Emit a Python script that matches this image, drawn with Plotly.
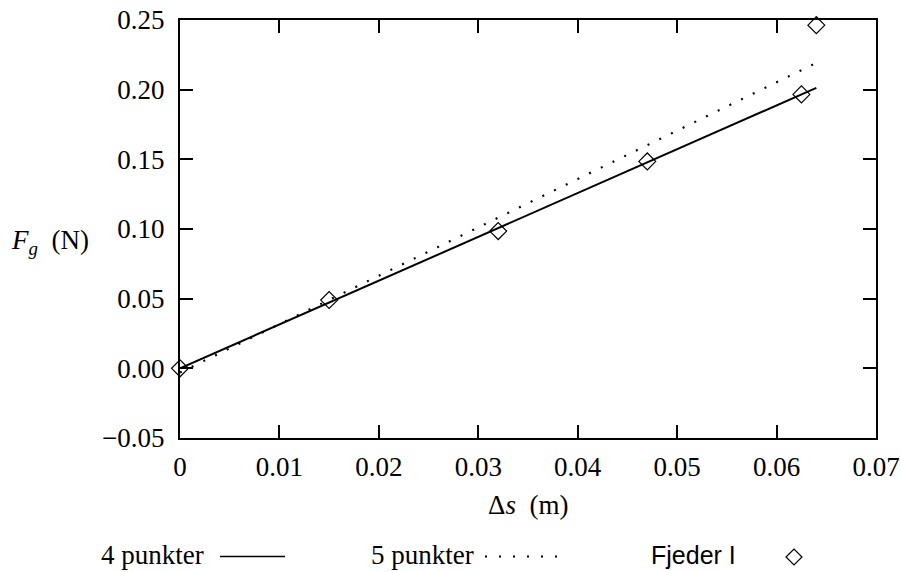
import plotly.graph_objects as go

# Data
ds_points = [0.0, 0.015, 0.032, 0.047, 0.0625, 0.064]
fg_points = [0.0, 0.049, 0.0985, 0.1485, 0.1966, 0.2463]

fit4_x = [0.0, 0.064]
fit4_y = [0.0, 0.2013]

fit5_x = [0.0, 0.064]
fit5_y = [-0.003, 0.2192]

x_ticks = [0, 0.01, 0.02, 0.03, 0.04, 0.05, 0.06, 0.07]
x_ticktext = ["0", "0.01", "0.02", "0.03", "0.04", "0.05", "0.06", "0.07"]
y_ticks = [-0.05, 0.0, 0.05, 0.10, 0.15, 0.20, 0.25]
y_ticktext = ["\u22120.05", "0.00", "0.05", "0.10", "0.15", "0.20", "0.25"]

SERIF = "Liberation Serif"
SANS = "Liberation Sans"
FS = 27

fig = go.Figure()
fig.add_trace(go.Scatter(x=fit4_x, y=fit4_y, mode="lines",
                         line=dict(color="black", width=2), showlegend=False))
fig.add_trace(go.Scatter(x=fit5_x, y=fit5_y, mode="lines",
                         line=dict(color="black", width=2.2, dash="2px,11px"), showlegend=False))
fig.add_trace(go.Scatter(x=ds_points, y=fg_points, mode="markers",
                         marker=dict(symbol="diamond-open", size=13, color="black",
                                     line=dict(width=1.2, color="black")),
                         cliponaxis=False, showlegend=False))

W, H = 901, 572
PL, PR, PT, PB = 180, 876, 20, 438   # plot area in page pixels
L, T, R, B = PL, PT, W - PR, H - PB
pw = PR - PL
ph = PB - PT

def px(x):
    return (x - PL) / pw

def py(y):
    return (PB - y) / ph

axis_common = dict(showline=True, linecolor="black", linewidth=2, mirror="ticks",
                   ticks="inside", ticklen=13, tickwidth=2, tickcolor="black",
                   showgrid=False, zeroline=False, automargin=False,
                   ticklabeloverflow="allow",
                   tickfont=dict(family=SERIF, size=FS, color="black"))

fig.update_xaxes(range=[0, 0.07], tickvals=x_ticks, ticktext=x_ticktext,
                 ticklabelstandoff=4, **axis_common)
fig.update_yaxes(range=[-0.05, 0.25], tickvals=y_ticks, ticktext=y_ticktext,
                 ticklabelstandoff=8, **axis_common)

annotations = [
    dict(text="\u0394<i>s</i>  (m)", x=px(528), y=py(505), xref="paper", yref="paper",
         showarrow=False, xanchor="center", yanchor="middle",
         font=dict(family=SERIF, size=FS, color="black")),
    dict(text="<i>F</i><sub><i>g</i></sub>  (N)", x=px(50), y=py(242), xref="paper", yref="paper",
         showarrow=False, xanchor="center", yanchor="middle",
         font=dict(family=SERIF, size=FS, color="black")),
    dict(text="4 punkter", x=px(206), y=py(555), xref="paper", yref="paper",
         showarrow=False, xanchor="right", yanchor="middle",
         font=dict(family=SERIF, size=FS, color="black")),
    dict(text="5 punkter", x=px(476), y=py(555), xref="paper", yref="paper",
         showarrow=False, xanchor="right", yanchor="middle",
         font=dict(family=SERIF, size=FS, color="black")),
    dict(text="Fjeder I", x=px(738), y=py(555), xref="paper", yref="paper",
         showarrow=False, xanchor="right", yanchor="middle",
         font=dict(family=SANS, size=25, color="black")),
]

shapes = [
    dict(type="line", xref="paper", yref="paper", x0=px(220), x1=px(285),
         y0=py(556.5), y1=py(556.5), line=dict(color="black", width=1.5)),
    dict(type="line", xref="paper", yref="paper", x0=px(485), x1=px(560),
         y0=py(556.5), y1=py(556.5), line=dict(color="black", width=2, dash="2px,12px")),
    dict(type="path", xref="paper", yref="paper",
         path=f"M {px(786)},{py(557)} L {px(794)},{py(549)} L {px(802)},{py(557)} L {px(794)},{py(565)} Z",
         line=dict(color="black", width=1.2)),
]

fig.update_layout(width=W, height=H, margin=dict(l=L, r=R, t=T, b=B, autoexpand=False),
                  plot_bgcolor="white", paper_bgcolor="white",
                  annotations=annotations, shapes=shapes, showlegend=False)

fig.write_html("out.html", config={"displayModeBar": False},
               post_script="document.body.style.margin='0';document.body.style.overflow='hidden';")
